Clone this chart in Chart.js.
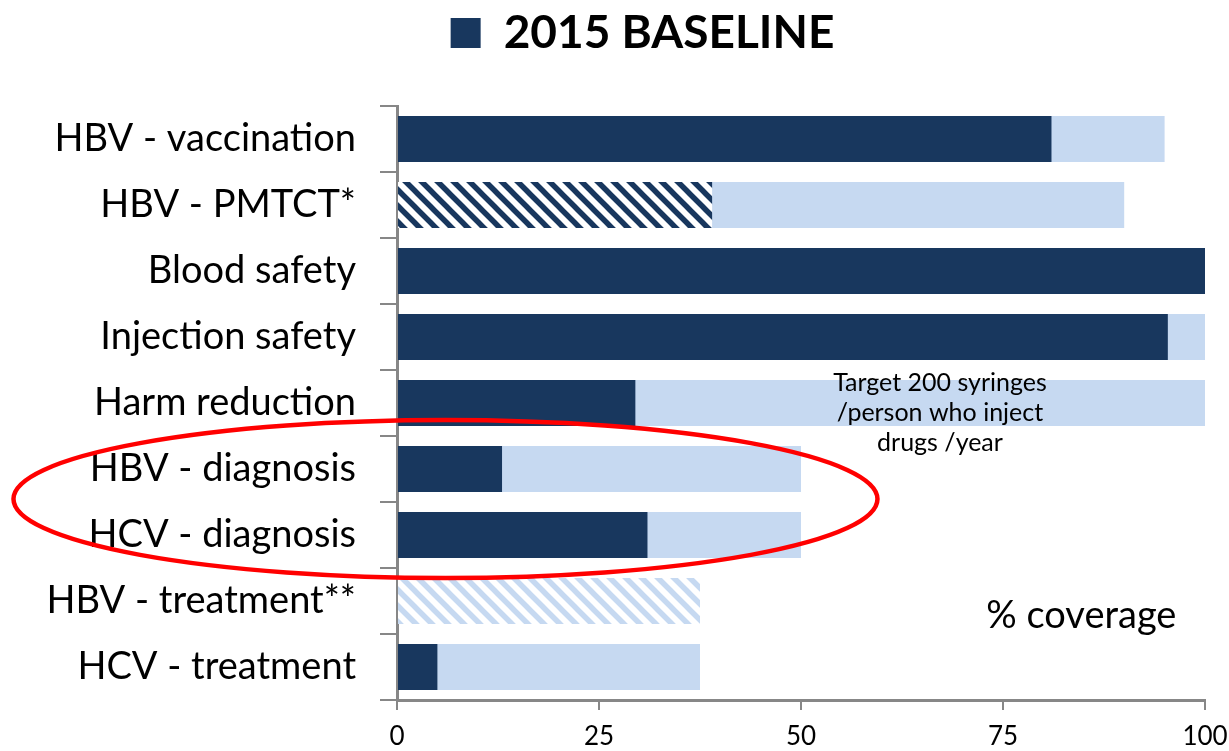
<!DOCTYPE html>
<html>
<head>
<meta charset="utf-8">
<script src="https://cdn.jsdelivr.net/npm/chart.js@4/dist/chart.umd.min.js"></script>
<style>
html,body{margin:0;padding:0;background:#fff;}
#wrap{width:1229px;height:751px;}
</style>
</head>
<body>
<div id="wrap"><canvas id="c" width="1229" height="751"></canvas></div>
<script>
const categories = ['HBV - vaccination','HBV - PMTCT*','Blood safety','Injection safety','Harm reduction','HBV - diagnosis','HCV - diagnosis','HBV - treatment**','HCV - treatment'];
const baseline2015 = [81, 39, 100, 95.4, 29.5, 13, 31, null, 5];
const target2020 = [95, 90, 100, 100, 100, 50, 50, 37.5, 37.5];
const xTicks = [0, 25, 50, 75, 100];
const baselineLabel = '2015 BASELINE';
const hatchedBaseline = ['HBV - PMTCT*'];
const hatchedTarget = ['HBV - treatment**'];
const noteLines = ['Target 200 syringes', '/person who inject', 'drugs /year'];
const unitNote = '% coverage';

const DARK = '#18375e';
const LIGHT = '#c6d9f1';
const AXIS = '#878787';
const FONT = 'Lato, "Open Sans", sans-serif';

function makeHatch(fg, bg) {
  const p = 16;
  const c = document.createElement('canvas');
  c.width = p; c.height = p;
  const g = c.getContext('2d');
  g.fillStyle = bg; g.fillRect(0, 0, p, p);
  g.strokeStyle = fg; g.lineWidth = 5.5;
  g.beginPath();
  for (let k = -1; k <= 1; k++) {
    g.moveTo(k * p - 2, -2); g.lineTo(k * p + p + 2, p + 2);
  }
  g.stroke();
  return document.getElementById('c').getContext('2d').createPattern(c, 'repeat');
}
const darkHatch = makeHatch(DARK, '#ffffff');
const lightHatch = makeHatch(LIGHT, '#ffffff');

const legendSpace = {
  id: 'legendSpace',
  beforeLayout(chart) {
    const lg = chart.legend;
    if (lg && !lg._patched) {
      const orig = lg.fit;
      lg.fit = function () { orig.call(this); this.height = 106; };
      lg._patched = true;
    }
  },
  afterLayout(chart) {
    const lg = chart.legend;
    if (lg) { lg.left += 40; lg.right += 40; }
  }
};

const annotations = {
  id: 'annotations',
  afterDatasetsDraw(chart) {
    const {ctx, scales: {x, y}} = chart;
    ctx.save();
    ctx.fillStyle = '#000';
    ctx.font = '25px ' + FONT;
    ctx.textAlign = 'center';
    ctx.textBaseline = 'middle';
    const nx = x.getPixelForValue(67.2);
    const ny = y.getPixelForValue(4);
    noteLines.forEach((t, i) => ctx.fillText(t, nx, ny - 20 + i * 30));
    ctx.font = '38px ' + FONT;
    ctx.fillText(unitNote, x.getPixelForValue(84.7), y.getPixelForValue(7) + 15);
    const cy = (y.getPixelForValue(5) + y.getPixelForValue(6)) / 2 - 3;
    const cx = x.getPixelForValue(6);
    ctx.strokeStyle = '#ff0000';
    ctx.lineWidth = 4.5;
    ctx.beginPath();
    ctx.ellipse(cx, cy, 432, 79, 0, 0, Math.PI * 2);
    ctx.stroke();
    ctx.restore();
  }
};

new Chart(document.getElementById('c'), {
  type: 'bar',
  data: {
    labels: categories,
    datasets: [
      {
        label: baselineLabel,
        data: baseline2015,
        backgroundColor: (ctx) => (ctx.type === 'data' && hatchedBaseline.includes(categories[ctx.dataIndex])) ? darkHatch : DARK,
        grouped: false,
        barPercentage: 0.7,
        categoryPercentage: 1
      },
      {
        label: 'Target',
        data: target2020,
        backgroundColor: (ctx) => (ctx.type === 'data' && hatchedTarget.includes(categories[ctx.dataIndex])) ? lightHatch : LIGHT,
        grouped: false,
        barPercentage: 0.7,
        categoryPercentage: 1
      }
    ]
  },
  options: {
    indexAxis: 'y',
    responsive: false,
    animation: false,
    layout: {padding: {left: 0, right: 24, top: 0, bottom: 0}},
    plugins: {
      legend: {
        position: 'top',
        labels: {
          filter: (item) => item.datasetIndex === 0,
          boxWidth: 30,
          boxHeight: 30,
          color: '#000',
          padding: 10,
          font: {family: FONT, size: 46, weight: 'bold'}
        }
      },
      tooltip: {enabled: false}
    },
    scales: {
      x: {
        min: 0, max: 100,
        afterBuildTicks: (s) => { s.ticks = xTicks.map(v => ({value: v})); },
        afterFit: (s) => { s.height = 51; s.paddingLeft = 0; s.paddingRight = 0; },
        border: {color: AXIS, width: 3},
        grid: {drawOnChartArea: false, drawTicks: true, tickLength: 10, color: AXIS, lineWidth: 2},
        ticks: {color: '#000', font: {family: FONT, size: 26}, padding: 11, maxRotation: 0}
      },
      y: {
        afterFit: (s) => { s.width = 397; s.paddingTop = 0; s.paddingBottom = 0; },
        border: {color: AXIS, width: 3},
        grid: {drawOnChartArea: false, drawTicks: true, tickLength: 17, color: AXIS, lineWidth: 2, offset: true},
        ticks: {color: '#000', font: {family: FONT, size: 38}, padding: 24}
      }
    }
  },
  plugins: [legendSpace, annotations]
});
</script>
</body>
</html>
